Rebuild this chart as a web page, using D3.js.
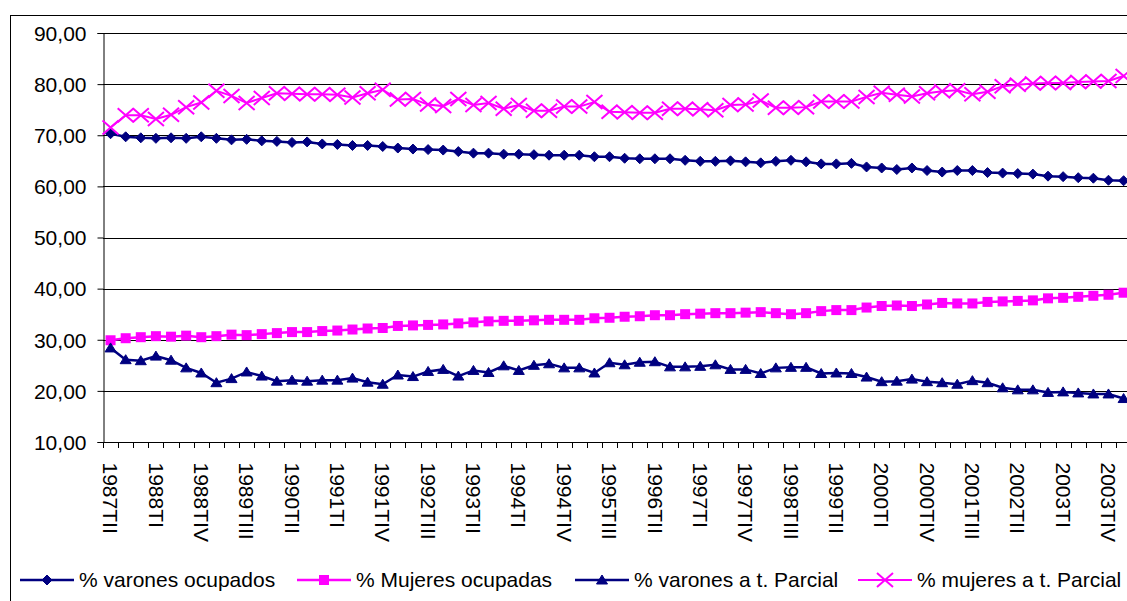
<!DOCTYPE html>
<html><head><meta charset="utf-8">
<script src="https://cdn.jsdelivr.net/npm/d3@7"></script>
<style>
body{margin:0;background:#fff}
svg{display:block}
text{font-family:"Liberation Sans",Arial,sans-serif;fill:#000}
</style>
</head><body>
<svg id="c" width="1127" height="601"></svg>
<script>
const categories = [
 "1987TII","1987TIII","1987TIV",
 "1988TI","1988TII","1988TIII","1988TIV",
 "1989TI","1989TII","1989TIII","1989TIV",
 "1990TI","1990TII","1990TIII","1990TIV",
 "1991TI","1991TII","1991TIII","1991TIV",
 "1992TI","1992TII","1992TIII","1992TIV",
 "1993TI","1993TII","1993TIII","1993TIV",
 "1994TI","1994TII","1994TIII","1994TIV",
 "1995TI","1995TII","1995TIII","1995TIV",
 "1996TI","1996TII","1996TIII","1996TIV",
 "1997TI","1997TII","1997TIII","1997TIV",
 "1998TI","1998TII","1998TIII","1998TIV",
 "1999TI","1999TII","1999TIII","1999TIV",
 "2000TI","2000TII","2000TIII","2000TIV",
 "2001TI","2001TII","2001TIII","2001TIV",
 "2002TI","2002TII","2002TIII","2002TIV",
 "2003TI","2003TII","2003TIII","2003TIV",
 "2004TI"
];
const varonesOcupados = [
 70.3,69.7,69.5,69.4,69.5,69.4,69.7,69.4,69.1,69.2,68.9,68.8,68.6,68.7,68.3,68.2,68.0,68.0,67.8,67.5,
 67.3,67.2,67.1,66.8,66.5,66.5,66.3,66.3,66.2,66.1,66.1,66.1,65.8,65.8,65.5,65.4,65.4,65.4,65.1,64.9,
 64.9,65.0,64.8,64.6,64.9,65.1,64.8,64.4,64.4,64.5,63.8,63.6,63.3,63.6,63.1,62.8,63.1,63.1,62.7,62.6,
 62.5,62.4,62.0,61.9,61.7,61.6,61.2,61.1
];
const mujeresOcupadas = [
 29.9,30.3,30.5,30.7,30.6,30.8,30.5,30.7,31.0,30.9,31.1,31.3,31.5,31.5,31.7,31.8,32.0,32.2,32.3,32.7,
 32.8,32.9,33.0,33.2,33.4,33.6,33.7,33.7,33.8,33.9,33.9,33.9,34.2,34.3,34.5,34.6,34.8,34.8,35.0,35.1,
 35.2,35.2,35.3,35.4,35.2,35.0,35.2,35.6,35.8,35.8,36.3,36.6,36.7,36.6,36.9,37.2,37.1,37.1,37.4,37.5,
 37.6,37.7,38.1,38.2,38.4,38.6,38.8,39.2
];
const varonesParcial = [
 28.4,26.1,25.9,26.8,26.0,24.5,23.5,21.6,22.4,23.7,22.9,21.9,22.1,21.9,22.1,22.1,22.5,21.7,21.3,23.1,
 22.8,23.8,24.2,22.9,24.0,23.6,24.9,24.0,25.0,25.3,24.5,24.5,23.5,25.5,25.1,25.6,25.7,24.7,24.7,24.8,
 25.1,24.2,24.2,23.4,24.5,24.6,24.6,23.4,23.5,23.4,22.7,21.8,21.9,22.3,21.8,21.6,21.3,22.0,21.6,20.6,
 20.2,20.2,19.7,19.8,19.6,19.4,19.4,18.5
];
const mujeresParcial = [
 71.5,73.9,73.9,73.2,74.0,75.5,76.4,78.7,77.7,76.3,77.3,78.2,78.1,78.0,78.0,77.9,77.4,78.2,78.9,77.0,
 77.1,76.0,75.7,77.1,75.9,76.3,75.2,75.9,74.8,74.8,75.6,75.6,76.5,74.6,74.5,74.4,74.4,75.2,75.2,75.1,
 74.9,75.9,76.0,76.8,75.4,75.4,75.5,76.6,76.6,76.6,77.5,78.3,77.9,77.6,78.2,78.6,78.8,78.0,78.5,79.6,
 79.9,80.1,80.2,80.2,80.4,80.5,80.6,81.6
];
const yTicks = [10,20,30,40,50,60,70,80,90];
const seriesNames = ["% varones ocupados","% Mujeres ocupadas","% varones a t. Parcial","% mujeres a t. Parcial"];
const seriesColors = ["#000080","#FF00FF","#000080","#FF00FF"];
const seriesMarkers = ["diamond","square","triangle","x"];
const seriesData = [varonesOcupados, mujeresOcupadas, varonesParcial, mujeresParcial];

(function(){
const FS = 21;
const svg = d3.select("#c");
svg.append("rect").attr("x",10.5).attr("y",15.5).attr("width",1300).attr("height",700)
  .attr("fill","#fff").attr("stroke","#000").attr("stroke-width",1);

const pLeft = 103, pTop = 33, pBottom = 442, step = 15.12;
const pRight = pLeft + step * categories.length;
const x = d3.scaleBand().domain(categories).range([pLeft, pRight]).padding(0);
const y = d3.scaleLinear().domain([10, 90]).range([pBottom, pTop]);
const cx = c => x(c) + x.bandwidth() / 2;

svg.append("g").selectAll("line").data(yTicks.slice(1)).join("line")
  .attr("x1", pLeft).attr("x2", pRight)
  .attr("y1", d => Math.round(y(d)) + 0.5).attr("y2", d => Math.round(y(d)) + 0.5)
  .attr("stroke", "#000").attr("stroke-width", 1);

const yAxis = svg.append("g").attr("transform", `translate(${pLeft + 0.5},0)`)
  .call(d3.axisLeft(y).tickValues(yTicks).tickSize(6).tickPadding(11)
    .tickFormat(d => d3.format(".2f")(d).replace(".", ",")));
yAxis.select(".domain").attr("stroke", "#000");
yAxis.selectAll(".tick line").attr("stroke", "#000");
yAxis.selectAll("text").attr("font-size", FS).attr("font-family", '"Liberation Sans",Arial,sans-serif').attr("dy", "0.35em");

const xAxis = svg.append("g").attr("transform", `translate(0,${pBottom + 0.5})`)
  .call(d3.axisBottom(x).tickSize(0)
    .tickValues(categories.filter((c, i) => i % 3 === 0)));
xAxis.select(".domain").remove();
xAxis.selectAll("text")
  .attr("font-size", FS).attr("font-family", '"Liberation Sans",Arial,sans-serif')
  .attr("transform", "rotate(90)")
  .attr("text-anchor", "start")
  .attr("x", 20).attr("y", 0).attr("dy", "0.35em");
const boundaries = d3.range(categories.length + 1).map(i => pLeft + i * x.step());
svg.append("g").selectAll("line").data(boundaries).join("line")
  .attr("x1", d => Math.round(d) + 0.5).attr("x2", d => Math.round(d) + 0.5)
  .attr("y1", pBottom).attr("y2", pBottom + 6).attr("stroke", "#000");
svg.append("line").attr("x1", pLeft).attr("x2", pRight).attr("y1", pBottom + 0.5).attr("y2", pBottom + 0.5).attr("stroke", "#000");

function drawMarker(g, type, color) {
  if (type === "diamond") {
    g.append("path").attr("d", "M0,-5 L5,0 L0,5 L-5,0Z").attr("fill", color).attr("stroke", color).attr("stroke-width", 1);
  } else if (type === "square") {
    g.append("rect").attr("x", -5).attr("y", -5).attr("width", 10).attr("height", 10).attr("fill", color);
  } else if (type === "triangle") {
    g.append("path").attr("d", "M0,-5 L5.5,4 L-5.5,4Z").attr("fill", color).attr("stroke", color).attr("stroke-width", 1);
  } else {
    g.append("path").attr("d", "M-8,-7 L8,7 M-8,7 L8,-7").attr("fill", "none").attr("stroke", color).attr("stroke-width", 2);
  }
}

const line = d3.line().x((d, i) => cx(categories[i])).y(d => y(d));
seriesData.forEach((vals, s) => {
  const g = svg.append("g");
  g.append("path").datum(vals).attr("d", line).attr("fill", "none")
    .attr("stroke", seriesColors[s]).attr("stroke-width", s === 3 ? 2 : 2.5);
  g.selectAll("g.m").data(vals).join("g").attr("class", "m")
    .attr("transform", (d, i) => `translate(${cx(categories[i])},${y(d)})`)
    .each(function () { drawMarker(d3.select(this), seriesMarkers[s], seriesColors[s]); });
});

const legendX = [20, 297, 575, 858];
const legendY = 580;
seriesNames.forEach((name, s) => {
  const g = svg.append("g").attr("transform", `translate(${legendX[s]},${legendY})`);
  g.append("line").attr("x1", 0).attr("x2", 54).attr("y1", 0).attr("y2", 0)
    .attr("stroke", seriesColors[s]).attr("stroke-width", s === 3 ? 2 : 2.5);
  const m = g.append("g").attr("transform", "translate(27,0)");
  drawMarker(m, seriesMarkers[s], seriesColors[s]);
  g.append("text").attr("x", 59).attr("y", 0).attr("dy", "0.35em")
    .attr("font-size", FS).text(name);
});
})();
</script>
</body></html>
